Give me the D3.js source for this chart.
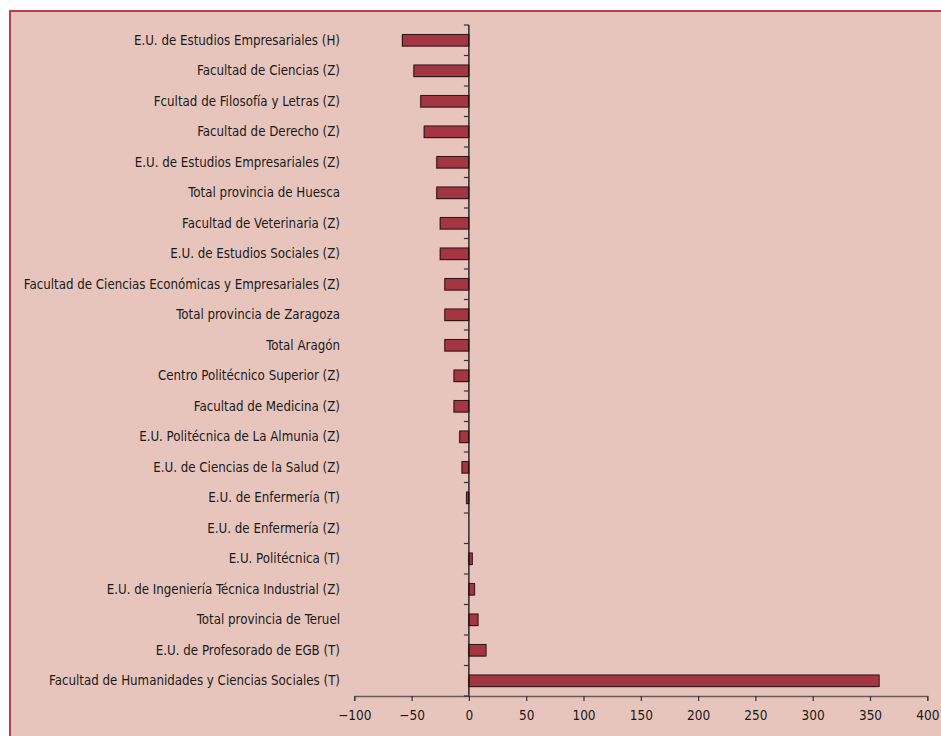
<!DOCTYPE html>
<html>
<head>
<meta charset="utf-8">
<script src="https://cdn.jsdelivr.net/npm/d3@7"></script>
<style>
  body { margin: 0; background: #fff; }
  svg text { font-family: "DejaVu Sans Condensed", "Liberation Sans Narrow", sans-serif; fill: #1a1a1a; }
</style>
</head>
<body>
<svg id="chart" width="941" height="736"></svg>
<script>
const categories = [
  "E.U. de Estudios Empresariales (H)",
  "Facultad de Ciencias (Z)",
  "Fcultad de Filosofía y Letras (Z)",
  "Facultad de Derecho (Z)",
  "E.U. de Estudios Empresariales (Z)",
  "Total provincia de Huesca",
  "Facultad de Veterinaria (Z)",
  "E.U. de Estudios Sociales (Z)",
  "Facultad de Ciencias Económicas y Empresariales (Z)",
  "Total provincia de Zaragoza",
  "Total Aragón",
  "Centro Politécnico Superior (Z)",
  "Facultad de Medicina (Z)",
  "E.U. Politécnica de La Almunia (Z)",
  "E.U. de Ciencias de la Salud (Z)",
  "E.U. de Enfermería (T)",
  "E.U. de Enfermería (Z)",
  "E.U. Politécnica (T)",
  "E.U. de Ingeniería Técnica Industrial (Z)",
  "Total provincia de Teruel",
  "E.U. de Profesorado de EGB (T)",
  "Facultad de Humanidades y Ciencias Sociales (T)"
]
const values = [-58, -48, -42, -39, -28, -28, -25, -25, -21, -21, -21, -13, -13, -8, -6, -2, 0, 3, 5, 8, 15, 358]
const xTicks = [-100, -50, 0, 50, 100, 150, 200, 250, 300, 350, 400]

const svg = d3.select("#chart")

// panel background with red frame, running off the right and bottom edges
svg.append("rect")
  .attr("x", 10).attr("y", 11)
  .attr("width", 960).attr("height", 760)
  .attr("fill", "#e8c5bc")
  .attr("stroke", "#b8404e")
  .attr("stroke-width", 2)

const x = d3.scaleLinear().domain([-100, 400]).range([354.3, 927.3])
const y = d3.scaleBand().domain(categories).range([25, 696]).paddingInner(0.62).paddingOuter(0.31)
const band = d3.scaleBand().domain(categories).range([25, 696])

const g = svg.append("g")

// bars: soft shadow then bar
g.selectAll(".shadow")
  .data(values)
  .join("rect")
  .attr("class", "shadow")
  .attr("x", (d) => Math.min(x(d), x(0)) - 1)
  .attr("y", (d, i) => y(categories[i]) + 1)
  .attr("width", (d) => Math.abs(x(d) - x(0)))
  .attr("height", y.bandwidth())
  .attr("fill", "#6b3a3a")
  .attr("opacity", (d) => (d === 0 ? 0 : 0.35))

g.selectAll(".bar")
  .data(values)
  .join("rect")
  .attr("class", "bar")
  .attr("x", (d) => Math.min(x(d), x(0)))
  .attr("y", (d, i) => y(categories[i]))
  .attr("width", (d) => Math.abs(x(d) - x(0)))
  .attr("height", y.bandwidth())
  .attr("fill", "#a33641")
  .attr("stroke", "#2a1414")
  .attr("stroke-width", (d) => (d === 0 ? 0 : 1))

// x axis
const xAxis = svg.append("g")
  .attr("transform", "translate(0,696)")
  .call(d3.axisBottom(x).tickValues(xTicks).tickSize(5).tickPadding(9)
    .tickFormat((d) => (d < 0 ? "\u2212" + Math.abs(d) : d)))
xAxis.select(".domain").attr("stroke", "#6a5a58").attr("stroke-width", 1.3)
xAxis.selectAll(".tick line").attr("stroke", "#333").attr("stroke-width", 1.2)
xAxis.selectAll(".tick text").attr("font-size", 13.5)

// y axis at zero, ticks at category boundaries
const yAxisG = svg.append("g").attr("transform", `translate(${x(0)},0)`)
yAxisG.append("line")
  .attr("y1", 25).attr("y2", 696)
  .attr("stroke", "#111").attr("stroke-width", 1.3)
const bounds = categories.map((c) => band(c)).concat([696])
yAxisG.selectAll(".ytick")
  .data(bounds)
  .join("line")
  .attr("class", "ytick")
  .attr("x1", -5).attr("x2", 0)
  .attr("y1", (d) => d).attr("y2", (d) => d)
  .attr("stroke", "#333").attr("stroke-width", 1.2)

// category labels
svg.append("g").selectAll("text")
  .data(categories)
  .join("text")
  .attr("x", 340)
  .attr("y", (d) => band(d) + band.bandwidth() / 2)
  .attr("dy", "0.35em")
  .attr("text-anchor", "end")
  .attr("font-size", 13.2)
  .text((d) => d)
</script>
</body>
</html>
